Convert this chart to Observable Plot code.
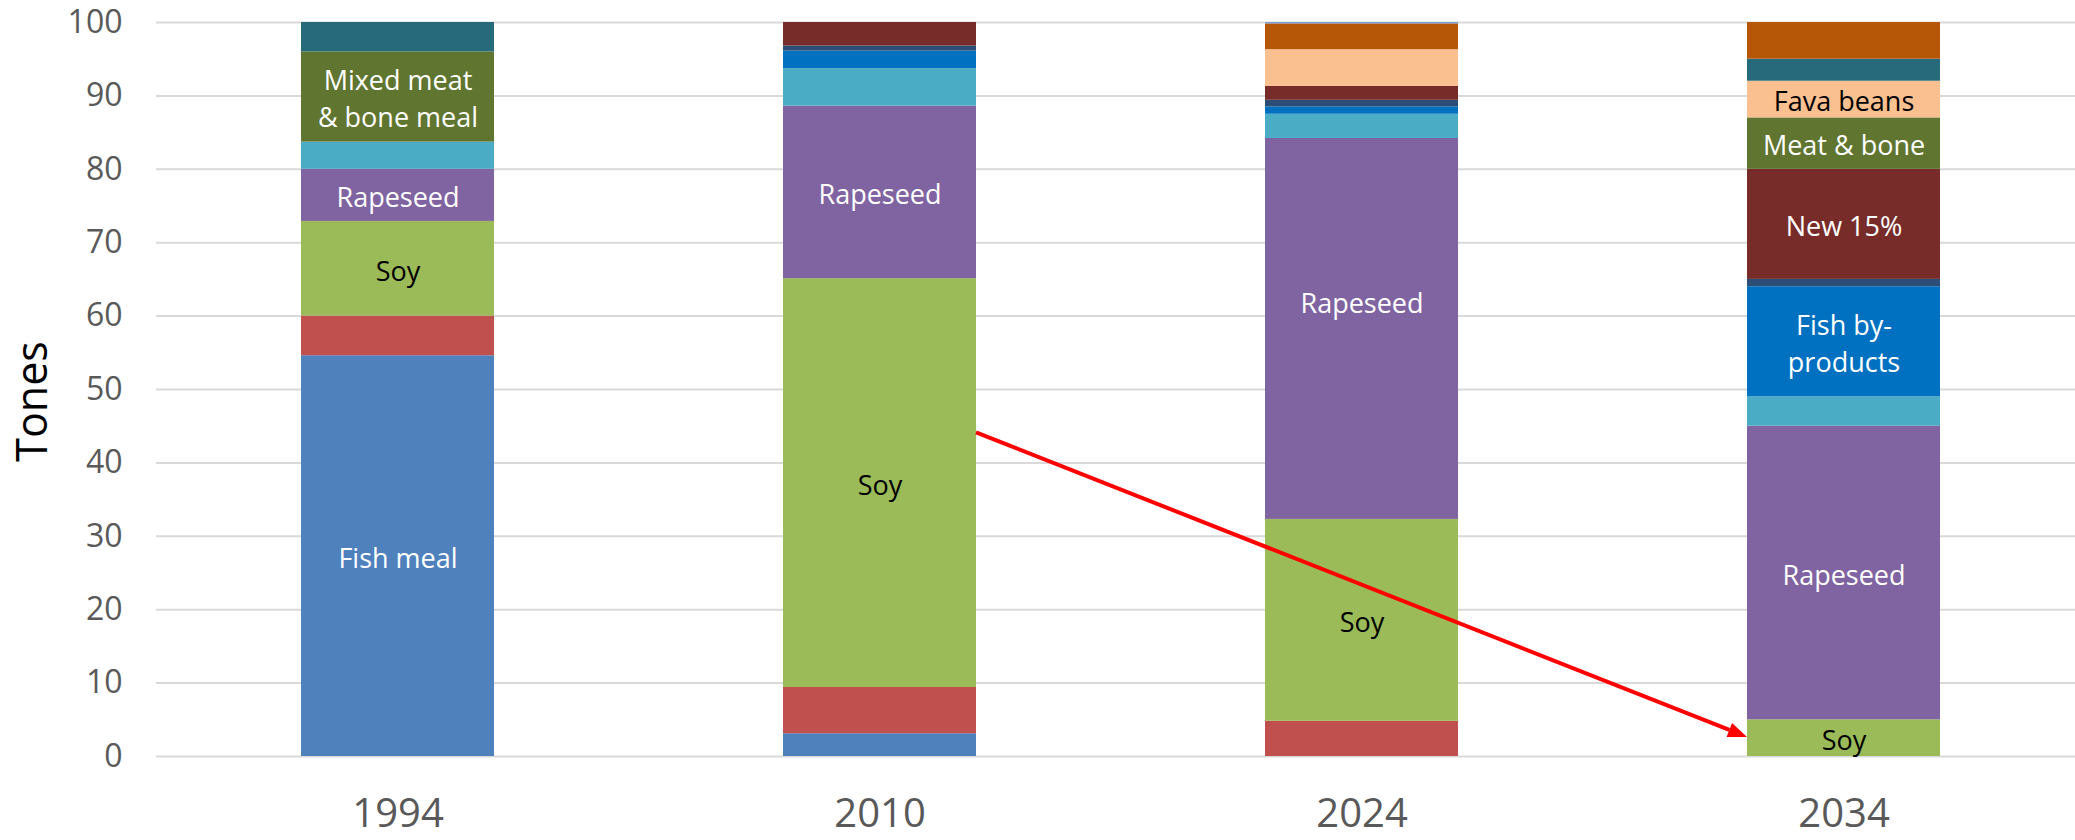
<!DOCTYPE html>
<html>
<head>
<meta charset="utf-8">
<script src="https://cdn.jsdelivr.net/npm/d3@7"></script>
<script src="https://cdn.jsdelivr.net/npm/@observablehq/plot@0.6"></script>
<style>
  html, body { margin: 0; padding: 0; background: #fff; }
  #chart { width: 2075px; height: 840px; }
</style>
</head>
<body>
<div id="chart"></div>
<script>
// ---- Data ----
const years = ["1994", "2010", "2024", "2034"];

// Stack order, bottom to top
const series = [
  "Fish meal", "Other (red)", "Soy", "Rapeseed", "Other (cyan)",
  "Fish by-products", "Other (navy)", "New 15%", "Meat & bone",
  "Fava beans", "Other (teal)", "Other (orange)", "Other (light blue)"
];
const colors = [
  "#4F81BD", "#C0504D", "#9BBB59", "#8064A2", "#4BACC6",
  "#0070C0", "#2C4D75", "#772C2A", "#5F7530",
  "#FAC090", "#276A7C", "#B65708", "#7A9CCF"
];

// Values per series, one entry per year (1994, 2010, 2024, 2034)
const fishMeal       = [54.6,  3.1,  0.0,  0.0];
const otherRed       = [ 5.4,  6.3,  4.8,  0.0];
const soy            = [12.9, 55.7, 27.5,  5.0];
const rapeseed       = [ 7.1, 23.5, 51.9, 40.0];
const otherCyan      = [ 3.7,  5.1,  3.3,  4.0];
const fishByProducts = [ 0.0,  2.4,  1.0, 15.0];
const otherNavy      = [ 0.0,  0.7,  0.9,  1.0];
const new15          = [ 0.0,  3.2,  1.9, 15.0];
const meatBone       = [12.3,  0.0,  0.0,  7.0];
const favaBeans      = [ 0.0,  0.0,  5.0,  5.0];
const otherTeal      = [ 4.0,  0.0,  0.0,  3.0];
const otherOrange    = [ 0.0,  0.0,  3.5,  5.0];
const otherLightBlue = [ 0.0,  0.0,  0.2,  0.0];

const seriesValues = [
  fishMeal, otherRed, soy, rapeseed, otherCyan, fishByProducts, otherNavy,
  new15, meatBone, favaBeans, otherTeal, otherOrange, otherLightBlue
];

// In-bar labels: [year, series, text]
const barLabels = [
  ["1994", "Fish meal", "Fish meal"],
  ["1994", "Soy", "Soy"],
  ["1994", "Rapeseed", "Rapeseed"],
  ["1994", "Meat & bone", "Mixed meat\n& bone meal"],
  ["2010", "Soy", "Soy"],
  ["2010", "Rapeseed", "Rapeseed"],
  ["2024", "Soy", "Soy"],
  ["2024", "Rapeseed", "Rapeseed"],
  ["2034", "Soy", "Soy"],
  ["2034", "Rapeseed", "Rapeseed"],
  ["2034", "Fish by-products", "Fish by-\nproducts"],
  ["2034", "New 15%", "New 15%"],
  ["2034", "Meat & bone", "Meat & bone"],
  ["2034", "Fava beans", "Fava beans"]
];
const darkTextSeries = ["Soy", "Fava beans"];
// label that sits above the middle of its segment in the reference
const raisedLabel = ["2024", "Rapeseed"];

const yTicks = [0, 10, 20, 30, 40, 50, 60, 70, 80, 90, 100];
const yLabel = "Tones";

// Red arrow: from right edge of 2010 bar to left edge of 2034 bar
const arrowFrom = ["2010", 44.1];
const arrowTo = ["2034", 2.6];

// ---- Table ----
const table = [];
years.forEach((yr, i) => {
  series.forEach((s, j) => {
    const lab = barLabels.find(l => l[0] === yr && l[1] === s);
    table.push({year: yr, series: s, value: seriesValues[j][i], label: lab ? lab[2] : ""});
  });
});
const isRaised = d => d.year === raisedLabel[0] && d.series === raisedLabel[1];
const isDark = d => darkTextSeries.includes(d.series);

function redArrow(index, scales) {
  const x = scales.x, y = scales.y;
  const bw = x.bandwidth();
  const x1 = x(arrowFrom[0]) + bw, y1 = y(arrowFrom[1]);
  const x2 = x(arrowTo[0]), y2 = y(arrowTo[1]);
  const ang = Math.atan2(y2 - y1, x2 - x1);
  const L = 19, W = 7.5;
  const bx = x2 - L * Math.cos(ang), by = y2 - L * Math.sin(ang);
  const g = d3.create("svg:g");
  g.append("line")
    .attr("x1", x1).attr("y1", y1).attr("x2", bx).attr("y2", by)
    .attr("stroke", "#FF0000").attr("stroke-width", 4);
  const px = -Math.sin(ang), py = Math.cos(ang);
  g.append("path")
    .attr("d", `M${x2},${y2}L${bx + W * px},${by + W * py}L${bx - W * px},${by - W * py}Z`)
    .attr("fill", "#FF0000");
  return g.node();
}

const stackOpts = {x: "year", y: "value", z: "series", order: series};

const chart = Plot.plot({
  width: 2075,
  height: 840,
  marginLeft: 156,
  marginRight: 0,
  marginTop: 22,
  marginBottom: 84,
  style: {fontFamily: "'Open Sans', sans-serif", background: "#fff"},
  x: {domain: years, range: [156, 2084], paddingInner: 0.6, paddingOuter: 0.3},
  y: {domain: [0, 100]},
  color: {domain: series, range: colors},
  marks: [
    Plot.gridY(yTicks, {stroke: "#D9D9D9", strokeOpacity: 1, strokeWidth: 2}),
    Plot.axisY({
      ticks: yTicks, tickSize: 0, tickPadding: 34, fontSize: 32, color: "#595959",
      label: null
    }),
    Plot.axisX({tickSize: 0, tickPadding: 42, fontSize: 40, color: "#595959", label: null}),
    Plot.text([yLabel], {
      frameAnchor: "left", textAnchor: "middle", dx: -123, dy: 12, rotate: -90,
      fontSize: 43, fill: "#000", text: d => d
    }),
    Plot.barY(table, {x: "year", y: "value", fill: "series", order: series}),
    Plot.text(table, Plot.stackY({
      ...stackOpts,
      text: d => (isDark(d) || isRaised(d)) ? "" : d.label,
      fill: "white", fontSize: 27, lineHeight: 1.36
    })),
    Plot.text(table, Plot.stackY({
      ...stackOpts,
      text: d => isRaised(d) ? d.label : "",
      fill: "white", fontSize: 27, dy: -25
    })),
    Plot.text(table, Plot.stackY({
      ...stackOpts,
      text: d => isDark(d) ? d.label : "",
      fill: "black", fontSize: 27, lineHeight: 1.36
    })),
    redArrow
  ]
});

document.getElementById("chart").appendChild(chart);
</script>
</body>
</html>
